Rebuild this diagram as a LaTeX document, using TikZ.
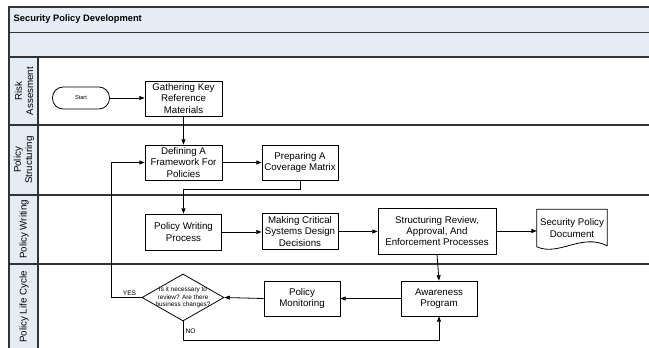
\documentclass[tikz,border=0pt]{standalone}
\usepackage{fontspec}
\setmainfont{Liberation Sans}
\usetikzlibrary{shapes.geometric,arrows.meta,calc}
\definecolor{band}{HTML}{E5ECF6}
\definecolor{framec}{HTML}{333333}
\begin{document}
\begin{tikzpicture}[x=0.75pt,y=-0.75pt,
  box/.style={draw=black, line width=0.6pt, fill=white, align=center,
    font=\fontsize{7.3}{8.3}\selectfont, inner sep=1pt},
  arr/.style={draw=black, line width=0.6pt, -{Triangle[length=4pt,width=3pt]}},
  lanesep/.style={draw=framec, line width=1.1pt},
  lanelbl/.style={rotate=90, align=center, font=\fontsize{7.3}{8.3}\selectfont},
  small/.style={font=\fontsize{4.8}{5.8}\selectfont, align=center}]
\useasboundingbox (0,0) rectangle (649,347);
\clip (0,0) rectangle (649,347);
% pool background
\fill[band] (9,7) rectangle (660,57);
\fill[band] (9,57) rectangle (38,360);
\draw[framec, line width=0.9pt] (660,7) -- (9,7) -- (9,360);
\draw[framec, line width=0.6pt] (9,32) -- (660,32);
\draw[lanesep] (9,57) -- (660,57);
\draw[lanesep] (9,125) -- (660,125);
\draw[lanesep] (9,195) -- (660,195);
\draw[lanesep] (9,264) -- (660,264);
\draw[framec, line width=0.9pt] (38,57) -- (38,360);
% title and lane labels
\node[anchor=west, font=\bfseries\fontsize{7}{8}\selectfont] (title) at (9,19.5) {Security Policy Development};
\node[lanelbl] (l1) at (24,91) {Risk\\Assesment};
\node[lanelbl] (l2) at (24,160) {Policy\\Structuring};
\node[lanelbl] (l3) at (24,229.5) {Policy Writing};
\node[lanelbl] (l4) at (24,307) {Policy Life Cycle};
% nodes
\node[draw=black, line width=0.6pt, rounded corners=8pt, minimum width=42.75pt, minimum height=16.5pt,
  font=\fontsize{4.2}{5}\selectfont] (start) at (81,98) {Start};
\node[box, minimum width=57.75pt, minimum height=26.25pt] (gather) at (183.5,98.5) {Gathering Key\\Reference\\Materials};
\node[box, minimum width=57.75pt, minimum height=26.25pt] (define) at (183.5,162.5) {Defining A\\Framework For\\Policies};
\node[box, minimum width=57pt, minimum height=26.25pt] (prep) at (300,162.5) {Preparing A\\Coverage Matrix};
\node[box, minimum width=57pt, minimum height=27pt] (pwp) at (183.5,232) {Policy Writing\\Process};
\node[box, minimum width=57pt, minimum height=27pt] (mcd) at (300,231.5) {Making Critical\\Systems Design\\Decisions};
\node[box, minimum width=88.5pt, minimum height=34.5pt] (srv) at (437,231) {Structuring Review,\\Approval, And\\Enforcement Processes};
\node[align=center, font=\fontsize{7.3}{8.3}\selectfont, minimum width=52.5pt, minimum height=27.75pt, inner sep=1pt] (doc) at (572,228) {Security Policy\\Document};
\draw[line width=0.6pt] (doc.south west) -- (doc.north west) -- (doc.north east) -- ($(doc.south east)+(0,-1)$)
  .. controls ($(doc.south east)+(-26,-14)$) and ($(doc.south west)+(22,10)$) .. (doc.south west) -- cycle;
\node[box, minimum width=57pt, minimum height=26.25pt] (awp) at (439,298.5) {Awareness\\Program};
\node[box, minimum width=57pt, minimum height=26.25pt] (pm) at (302,298.5) {Policy\\Monitoring};
\node[diamond, draw=black, line width=0.6pt, fill=white, minimum width=61.5pt, minimum height=35.25pt, inner sep=0pt] (dia) at (183,297.5) {};
\node[small] (diatext) at (dia.center) {Is it necessary to\\review? Are there\\business changes?};
% connectors
\draw[arr] (start.east) -- (start.east -| gather.west);
\draw[arr] (gather) -- (define);
\draw[arr] (define) -- (prep);
\coordinate (j1) at (183.5,189);
\draw[arr] (prep.south) |- (j1) -- (pwp.north);
\draw[arr] (pwp.east) -- (pwp.east -| mcd.west);
\draw[arr] (mcd.east) -- (mcd.east -| srv.west);
\draw[arr] (srv.east) -- (srv.east -| doc.west);
\draw[arr] (srv.south) -- (awp.north);
\draw[arr] (awp) -- (pm);
\draw[arr] (pm.west) -- (dia.east);
\coordinate (j2) at (111,162.5);
\draw[arr] (dia.west) -| (j2) -- (define.west);
\coordinate (j3) at (439,340);
\draw[arr] (dia.south) |- (j3) -- (awp.south);
\node[small, font=\fontsize{5}{6}\selectfont] (yes) at (129.5,293) {YES};
\node[small, font=\fontsize{5}{6}\selectfont] (no) at (190.5,331) {NO};
\end{tikzpicture}
\end{document}
